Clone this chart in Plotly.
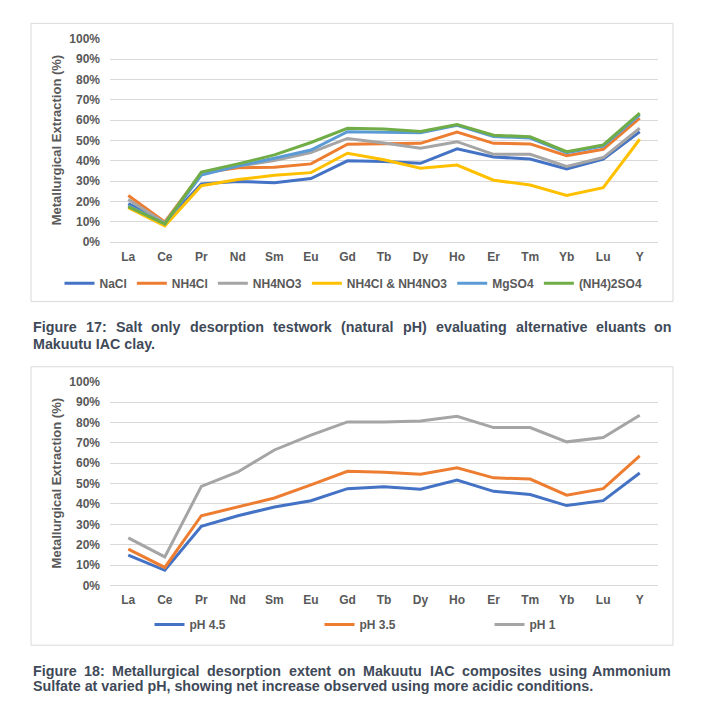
import plotly.graph_objects as go

# ---------------- data ----------------
elements = ["La", "Ce", "Pr", "Nd", "Sm", "Eu", "Gd", "Tb", "Dy", "Ho", "Er", "Tm", "Yb", "Lu", "Y"]

nacl = [19.0, 9.5, 28.7, 29.9, 29.2, 31.3, 40.0, 39.7, 38.8, 45.9, 41.9, 40.9, 36.0, 40.8, 54.3]
nh4cl = [23.0, 10.0, 34.0, 36.6, 36.9, 38.5, 48.2, 48.5, 48.6, 54.1, 48.6, 48.3, 42.5, 45.7, 61.0]
nh4no3 = [21.0, 9.5, 33.5, 37.4, 40.1, 44.1, 51.0, 48.8, 46.2, 49.4, 43.2, 43.2, 37.2, 41.6, 56.0]
nh4cl_nh4no3 = [17.0, 8.0, 27.8, 30.8, 32.9, 34.2, 43.7, 40.5, 36.4, 37.9, 30.5, 28.1, 23.0, 26.8, 50.6]
mgso4 = [18.0, 9.0, 33.0, 37.4, 41.3, 45.3, 54.3, 54.1, 53.8, 57.5, 52.0, 51.2, 44.0, 47.2, 62.6]
nh42so4 = [17.5, 9.0, 34.5, 38.5, 42.9, 49.0, 56.0, 55.6, 54.4, 57.8, 52.6, 51.8, 44.5, 47.8, 63.4]

ph45 = [14.9, 7.4, 29.0, 34.2, 38.5, 41.6, 47.5, 48.5, 47.2, 51.7, 46.2, 44.6, 39.2, 41.6, 55.2]
ph35 = [17.8, 8.8, 34.2, 38.4, 42.9, 49.4, 56.0, 55.6, 54.6, 57.8, 52.8, 52.2, 44.3, 47.5, 63.6]
ph1 = [23.3, 14.0, 48.6, 55.7, 66.5, 73.8, 80.3, 80.2, 80.7, 83.0, 77.5, 77.5, 70.5, 72.6, 83.6]

series1_names = ["NaCl", "NH4Cl", "NH4NO3", "NH4Cl & NH4NO3", "MgSO4", "(NH4)2SO4"]
series2_names = ["pH 4.5", "pH 3.5", "pH 1"]

y_ticks = [0, 10, 20, 30, 40, 50, 60, 70, 80, 90, 100]
y_tick_labels = ["0%", "10%", "20%", "30%", "40%", "50%", "60%", "70%", "80%", "90%", "100%"]
y_title = "Metallurgical Extraction (%)"

caption17 = ["Figure 17: Salt only desorption testwork (natural pH) evaluating alternative eluants on",
             "Makuutu IAC clay."]
caption18 = ["Figure 18: Metallurgical desorption extent on Makuutu IAC composites using Ammonium",
             "Sulfate at varied pH, showing net increase observed using more acidic conditions."]

# ---------------- styling ----------------
W, H = 704, 711
FONT = "Liberation Sans, Arial, sans-serif"
TXT = "#595959"
GRID = "#D9D9D9"
CAP = "#3F4A59"
colors1 = ["#4472C4", "#ED7D31", "#A5A5A5", "#FFC000", "#5B9BD5", "#70AD47"]
colors2 = ["#4472C4", "#ED7D31", "#A5A5A5"]


def px_x(x):
    return x / W


def px_y(y):
    return 1 - y / H


fig = go.Figure()

for name, vals, col in zip(series1_names,
                           [nacl, nh4cl, nh4no3, nh4cl_nh4no3, mgso4, nh42so4], colors1):
    fig.add_trace(go.Scatter(x=elements, y=vals, name=name, mode="lines",
                             line=dict(color=col, width=3), xaxis="x", yaxis="y",
                             legend="legend"))

for name, vals, col in zip(series2_names, [ph45, ph35, ph1], colors2):
    fig.add_trace(go.Scatter(x=elements, y=vals, name=name, mode="lines",
                             line=dict(color=col, width=3), xaxis="x2", yaxis="y2",
                             legend="legend2"))

xdom = [px_x(110), px_x(658)]
xcommon = dict(type="category", range=[-0.5, 14.5], showgrid=False, showline=False,
               zeroline=False, ticks="", ticklabelstandoff=6,
               tickfont=dict(family=FONT, size=12, color=TXT, weight="bold"), fixedrange=True)
ycommon = dict(range=[0, 100], tickmode="array", tickvals=y_ticks, ticktext=y_tick_labels,
               showgrid=True, gridcolor=GRID, gridwidth=1, zeroline=True, zerolinecolor=GRID,
               zerolinewidth=1, showline=False, ticks="", ticklabelstandoff=9,
               tickfont=dict(family=FONT, size=12, color=TXT, weight="bold"), fixedrange=True)

fig.update_layout(
    width=W, height=H,
    margin=dict(l=0, r=0, t=0, b=0),
    paper_bgcolor="white", plot_bgcolor="white",
    font=dict(family=FONT, color=TXT),
    xaxis=dict(domain=xdom, anchor="y", **xcommon),
    yaxis=dict(domain=[px_y(240), px_y(32.3)], anchor="x", **ycommon),
    xaxis2=dict(domain=xdom, anchor="y2", **xcommon),
    yaxis2=dict(domain=[px_y(590), px_y(382.3)], anchor="x2", **ycommon),
    legend=dict(orientation="h", x=px_x(59.5), xanchor="left", y=px_y(281.7), yanchor="middle",
                bgcolor="rgba(0,0,0,0)", borderwidth=0,
                font=dict(family=FONT, size=12, color=TXT, weight="bold")),
    legend2=dict(orientation="h", x=px_x(149.5), xanchor="left", y=px_y(630), yanchor="middle",
                 bgcolor="rgba(0,0,0,0)", borderwidth=0, entrywidth=125,
                 font=dict(family=FONT, size=12, color=TXT, weight="bold")),
    showlegend=True,
)

# chart borders
for (y0, y1) in [(16.7, 300.5), (367, 651)]:
    fig.add_shape(type="rect", xref="paper", yref="paper",
                  x0=px_x(31), x1=px_x(673), y0=px_y(y1), y1=px_y(y0),
                  line=dict(color=GRID, width=1), fillcolor="rgba(0,0,0,0)", layer="below")

# y axis titles
for yc in [136, 486]:
    fig.add_annotation(text=y_title, xref="paper", yref="paper", x=px_x(56), y=px_y(yc),
                       textangle=-90, showarrow=False, xanchor="center", yanchor="middle",
                       font=dict(family=FONT, size=13, color=TXT, weight="bold"))

# ---------------- justified captions ----------------
AFM = {' ': 278, '!': 333, '(': 333, ')': 333, ',': 278, '-': 333, '.': 278, ':': 333, '&': 722,
       'A': 722, 'B': 722, 'C': 722, 'D': 722, 'E': 667, 'F': 611, 'G': 778, 'H': 722, 'I': 278,
       'J': 556, 'K': 722, 'L': 611, 'M': 833, 'N': 722, 'O': 778, 'P': 667, 'Q': 778, 'R': 722,
       'S': 667, 'T': 611, 'U': 722, 'V': 667, 'W': 944, 'X': 667, 'Y': 667, 'Z': 611,
       'a': 556, 'b': 611, 'c': 556, 'd': 611, 'e': 556, 'f': 333, 'g': 611, 'h': 611, 'i': 278,
       'j': 278, 'k': 556, 'l': 278, 'm': 889, 'n': 611, 'o': 611, 'p': 611, 'q': 611, 'r': 389,
       's': 556, 't': 333, 'u': 611, 'v': 556, 'w': 778, 'x': 556, 'y': 556, 'z': 500}
CAP_SIZE = 14.3
CAP_X0, CAP_X1 = 32, 672


def tw(s, size):
    return sum(AFM.get(c, 556) for c in s) / 1000.0 * size


def cap_font():
    return dict(family=FONT, size=CAP_SIZE, color=CAP, weight="bold")


def add_justified(line, yc):
    words = line.split(" ")
    widths = [tw(w, CAP_SIZE) for w in words]
    gap = (CAP_X1 - CAP_X0 - sum(widths)) / (len(words) - 1)
    x = CAP_X0
    for i, (w, wd) in enumerate(zip(words, widths)):
        if i == len(words) - 1:
            fig.add_annotation(text=w, xref="paper", yref="paper", x=px_x(CAP_X1), y=px_y(yc),
                               xanchor="right", yanchor="middle", showarrow=False,
                               borderpad=0, font=cap_font())
        else:
            fig.add_annotation(text=w, xref="paper", yref="paper", x=px_x(x), y=px_y(yc),
                               xanchor="left", yanchor="middle", showarrow=False,
                               borderpad=0, font=cap_font())
        x += wd + gap


def add_plain(line, yc):
    fig.add_annotation(text=line, xref="paper", yref="paper", x=px_x(CAP_X0), y=px_y(yc),
                       xanchor="left", yanchor="middle", showarrow=False, borderpad=0,
                       font=cap_font())


add_justified(caption17[0], 326)
add_plain(caption17[1], 343.5)
add_justified(caption18[0], 677.5)
add_plain(caption18[1], 693)

fig.write_html("out.html", config={"displayModeBar": False},
               post_script="document.body.style.margin='0px';document.body.style.overflow='hidden';")
